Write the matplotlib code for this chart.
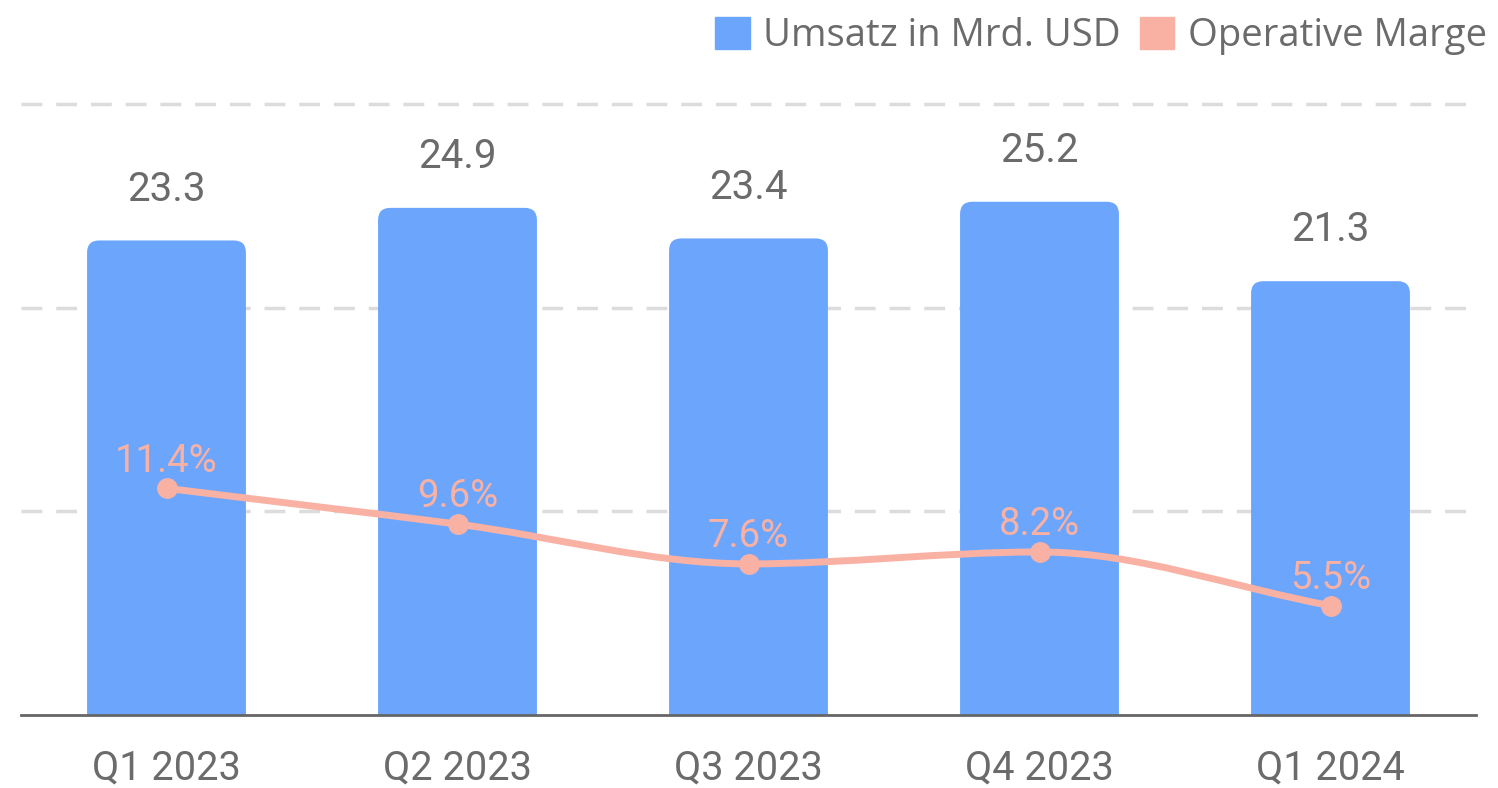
import matplotlib.pyplot as plt
from matplotlib.patches import FancyBboxPatch, Patch
from matplotlib.path import Path
from matplotlib.patches import PathPatch
import numpy as np

quarters = ["Q1 2023", "Q2 2023", "Q3 2023", "Q4 2023", "Q1 2024"]
umsatz = [23.3, 24.9, 23.4, 25.2, 21.3]
marge = [11.4, 9.6, 7.6, 8.2, 5.5]
series_names = ["Umsatz in Mrd. USD", "Operative Marge"]

BAR_COLOR = "#6ca6fc"
LINE_COLOR = "#f9b1a4"
TEXT_COLOR = "#6b6b6b"
NUM_FONT = "Roboto"
LEG_FONT = "Open Sans"


def monotone_path(x, y):
    """Cubic Bezier path through the points (monotone cubic tangents)."""
    x = np.asarray(x, float)
    y = np.asarray(y, float)
    h = np.diff(x)
    d = np.diff(y) / h
    m = np.zeros_like(y)
    m[0], m[-1] = d[0], d[-1]
    for i in range(1, len(y) - 1):
        if d[i - 1] * d[i] <= 0:
            m[i] = 0
        else:
            m[i] = 2 / (1 / d[i - 1] + 1 / d[i])
    verts = [(x[0], y[0])]
    codes = [Path.MOVETO]
    for i in range(len(h)):
        verts += [(x[i] + h[i] / 3, y[i] + m[i] * h[i] / 3),
                  (x[i + 1] - h[i] / 3, y[i + 1] - m[i + 1] * h[i] / 3),
                  (x[i + 1], y[i + 1])]
        codes += [Path.CURVE4] * 3
    return Path(verts, codes)


W, H = 1498, 788
fig = plt.figure(figsize=(W / 100, H / 100), dpi=100)
ax = fig.add_axes([21 / W, 73 / H, 1455 / W, 611 / H])

xs = np.arange(len(quarters))
ax.set_xlim(-0.5, len(quarters) - 0.5)
ax.set_ylim(0, 30)

# rounded bars (bottom corners pushed below the axis and clipped)
bw = 0.546
px_per_x = 1455 / len(quarters)
px_per_y = 611 / 30
aspect = px_per_x / px_per_y
for xi, v in zip(xs, umsatz):
    p = FancyBboxPatch((xi - bw / 2, -2), bw, v + 2,
                       boxstyle="round,pad=0,rounding_size=0.042",
                       mutation_aspect=aspect,
                       fc=BAR_COLOR, ec="none", zorder=2, clip_on=True)
    ax.add_patch(p)
    ax.text(xi, v + 1.95, f"{v:.1f}", ha="center", va="baseline",
            fontsize=29, color=TEXT_COLOR, family=NUM_FONT)

for gy in (10, 20, 30):
    ax.axhline(gy, color="#dcdcdc", lw=2.5, ls=(0, (6, 4)), zorder=1, clip_on=False)

for s in ("top", "right", "left"):
    ax.spines[s].set_visible(False)
ax.spines["bottom"].set_color("#666666")
ax.spines["bottom"].set_linewidth(2)
ax.spines["bottom"].set_zorder(5)
ax.set_yticks([])
ax.set_xticks(xs)
ax.set_xticklabels(quarters, fontsize=28.5, color=TEXT_COLOR, family=NUM_FONT)
ax.tick_params(axis="x", length=0, pad=24)

ax2 = ax.twinx()
ax2.set_ylim(0, 30.73)
ax2.set_yticks([])
for s in ax2.spines.values():
    s.set_visible(False)
ax2.add_patch(PathPatch(monotone_path(xs, marge), fc="none", ec=LINE_COLOR,
                        lw=5, capstyle="round", zorder=3))
ax2.plot(xs, marge, "o", color=LINE_COLOR, ms=14, zorder=4)
for xi, v in zip(xs, marge):
    ax2.annotate(f"{v:.1f}%", (xi, v), xytext=(0, 12), textcoords="offset points",
                 ha="center", va="baseline", fontsize=27.5, color=LINE_COLOR,
                 family=NUM_FONT)

handles = [Patch(color=BAR_COLOR), Patch(color=LINE_COLOR)]
fig.legend(handles, series_names, loc="upper right", bbox_to_anchor=(1.004, 1.0),
           ncol=2, frameon=False, handlelength=0.9, handleheight=0.9,
           handletextpad=0.35, columnspacing=0.5, borderaxespad=0.05,
           labelcolor=TEXT_COLOR, prop={"family": LEG_FONT, "size": 27.5})

fig.savefig("out.png", dpi=100)
